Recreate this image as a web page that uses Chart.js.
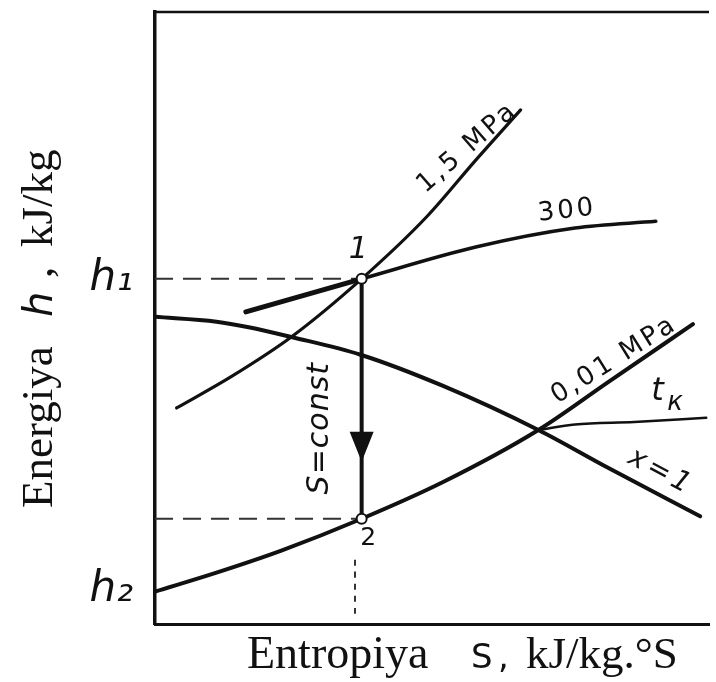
<!DOCTYPE html>
<html>
<head>
<meta charset="utf-8">
<script src="https://cdn.jsdelivr.net/npm/chart.js@4.4.1/dist/chart.umd.min.js"></script>
<style>
  html, body { margin: 0; padding: 0; background: #fff; }
  #wrap { width: 716px; height: 682px; }
</style>
</head>
<body>
<div id="wrap"><canvas id="hs-chart"></canvas></div>
<script>
// h-s diagram, both axes in arbitrary units (0..100), no numeric ticks
const sIso = 37.3;            // s = const expansion 1 -> 2
const h1 = 56.4;
const h2 = 17.2;

// 1,5 MPa isobar
const s15 = [3.9, 13.9, 24.6, 37.3, 49.0, 57.9, 66.0];
const h15 = [35.3, 40.5, 46.9, 56.4, 66.5, 75.8, 84.0];

// 300 isotherm
const s300 = [16.4, 37.3, 57.9, 75.8, 90.4];
const h300 = [51.0, 56.4, 61.6, 64.7, 65.8];

// saturation line x = 1
const sSat = [0, 11.1, 16.9, 24.6, 37.1, 52.0, 69.2, 81.6, 98.4];
const hSat = [50.2, 49.4, 48.5, 46.9, 44.0, 38.9, 31.7, 25.6, 17.6];

// 0,01 MPa isobar
const s001 = [0, 11.1, 22.8, 37.3, 52.0, 69.2, 81.6, 97.1];
const h001 = [5.3, 8.4, 12.0, 17.2, 23.2, 31.7, 39.4, 49.0];

// t_k isotherm
const sTk = [69.2, 75.8, 86.5, 99.5];
const hTk = [31.7, 32.6, 33.0, 33.7];

// short dotted drop from point 2
const sDrop = [36.1, 36.1];
const hDrop = [10.5, 0.7];

// arrow head on the s = const line
const arrowTipH = 26.5;
const arrowBaseH = 31.4;

// y axis marks
const yTickValues = [5.6, 56.4];
const yTickLabels = ['h₂', 'h₁'];

// curve labels
const labelTexts = ['1,5 MPa', '300', '0,01 MPa', 't', 'к', 'x=1', '1', '2', 'S=const'];
const labelS = [56.4, 74.4, 82.9, 90.7, 93.9, 91.3, 36.7, 38.5, 29.9];
const labelH = [77.8, 67.5, 43.1, 37.9, 36.0, 24.8, 61.1, 13.9, 32.0];

// axis titles (pieces with their own fonts)
const yTitleParts = ['Energiya', 'h', ',', 'kJ/kg'];
const xTitleParts = ['Entropiya', 'S', ',', 'kJ/kg.°S'];

const INK = '#111';
const DASH = '#333';
const SANS = '"DejaVu Sans"';
const SERIF = '"Liberation Serif"';

const labelStyle = [
    { font: `26px ${SANS}`, angle: -41, spacing: 3 },
    { font: `26px ${SANS}`, angle: -6, spacing: 3 },
    { font: `26px ${SANS}`, angle: -32, spacing: 3 },
    { font: `oblique 32px ${SANS}`, angle: 0, spacing: 0 },
    { font: `oblique 26px ${SANS}`, angle: 0, spacing: 0 },
    { font: `oblique 28px ${SANS}`, angle: 28, spacing: 4 },
    { font: `oblique 30px ${SANS}`, angle: 0, spacing: 0 },
    { font: `25px ${SANS}`, angle: 0, spacing: 0 },
    { font: `oblique 30px ${SANS}`, angle: -90, spacing: 1 }
];
const yTitleStyle = [
    { font: `45px ${SERIF}`, at: 0 },
    { font: `oblique 40px ${SANS}`, at: 191 },
    { font: `45px ${SERIF}`, at: 230 },
    { font: `45px ${SERIF}`, at: 261 }
];
const xTitleStyle = [
    { font: `46px ${SERIF}`, at: 0 },
    { font: `34px ${SANS}`, at: 224 },
    { font: `34px ${SANS}`, at: 251 },
    { font: `45px ${SERIF}`, at: 279 }
];

const pts = (xs, ys) => xs.map((x, i) => ({ x, y: ys[i] }));

function curve(data, width, extra) {
    return Object.assign({
        data,
        showLine: true,
        borderColor: INK,
        borderWidth: width,
        pointRadius: 0,
        cubicInterpolationMode: 'monotone',
        borderCapStyle: 'round'
    }, extra || {});
}

const sketchPlugin = {
    id: 'sketch',
    afterDatasetsDraw(chart) {
        const { ctx, chartArea: a, scales: { x, y } } = chart;
        ctx.save();

        // top edge of the frame
        ctx.strokeStyle = INK;
        ctx.lineWidth = 2.5;
        ctx.beginPath();
        ctx.moveTo(a.left - 2, a.top);
        ctx.lineTo(a.right, a.top);
        ctx.stroke();

        // arrow head
        const ax = x.getPixelForValue(sIso);
        const tip = y.getPixelForValue(arrowTipH);
        const base = y.getPixelForValue(arrowBaseH);
        ctx.fillStyle = INK;
        ctx.beginPath();
        ctx.moveTo(ax, tip);
        ctx.lineTo(ax - 12, base);
        ctx.lineTo(ax + 12, base);
        ctx.closePath();
        ctx.fill();

        // curve labels
        ctx.textAlign = 'center';
        ctx.textBaseline = 'middle';
        labelTexts.forEach((text, i) => {
            const st = labelStyle[i];
            ctx.save();
            ctx.translate(x.getPixelForValue(labelS[i]), y.getPixelForValue(labelH[i]));
            ctx.rotate(st.angle * Math.PI / 180);
            ctx.font = st.font;
            ctx.letterSpacing = st.spacing + 'px';
            ctx.fillText(text, 0, 0);
            ctx.restore();
        });
        ctx.restore();
    },
    afterDraw(chart) {
        const { ctx, chartArea: a } = chart;
        ctx.save();
        ctx.fillStyle = INK;
        ctx.textAlign = 'left';
        ctx.textBaseline = 'alphabetic';

        // y title, reading upwards
        ctx.save();
        ctx.translate(a.left - 103, a.bottom - 116);
        ctx.rotate(-Math.PI / 2);
        yTitleParts.forEach((t, i) => {
            ctx.font = yTitleStyle[i].font;
            ctx.fillText(t, yTitleStyle[i].at, 0);
        });
        ctx.restore();

        // x title
        xTitleParts.forEach((t, i) => {
            ctx.font = xTitleStyle[i].font;
            ctx.fillText(t, a.left + 92 + xTitleStyle[i].at, a.bottom + 44);
        });
        ctx.restore();
    }
};

new Chart(document.getElementById('hs-chart'), {
    type: 'scatter',
    data: {
        datasets: [
            {
                data: pts([sIso, sIso], [h1, h2]),
                showLine: false,
                pointRadius: 5,
                pointBackgroundColor: '#fff',
                pointBorderColor: INK,
                pointBorderWidth: 2,
                order: -2
            },
            curve(pts([sIso, sIso], [h1, h2]), 4, { cubicInterpolationMode: 'default', order: -1 }),
            curve(pts(s15, h15), 3.2),
            curve(pts(s300, h300), 3.5, {
                segment: { borderWidth: c => (c.p0DataIndex === 0 ? 5 : 3.5) }
            }),
            curve(pts(sSat, hSat), 4),
            curve(pts(s001, h001), 4),
            curve(pts(sTk, hTk), 2.5),
            curve(pts([0, sIso], [h1, h1]), 2, { borderColor: DASH, borderDash: [18, 10], borderCapStyle: 'butt' }),
            curve(pts([0, sIso], [h2, h2]), 2, { borderColor: DASH, borderDash: [18, 10], borderCapStyle: 'butt' }),
            curve(pts(sDrop, hDrop), 2, { borderColor: DASH, borderDash: [6, 6], borderCapStyle: 'butt' })
        ]
    },
    options: {
        responsive: true,
        maintainAspectRatio: false,
        animation: false,
        layout: { padding: { top: 12, right: 0, bottom: 0, left: 0 } },
        plugins: {
            legend: { display: false },
            tooltip: { enabled: false }
        },
        scales: {
            x: {
                type: 'linear',
                min: 0,
                max: 100,
                grid: { display: false, drawTicks: false },
                ticks: { display: false },
                border: { display: true, width: 3, color: INK },
                afterFit: s => { s.height = 58; s.paddingLeft = 0; s.paddingRight = 0; }
            },
            y: {
                type: 'linear',
                min: 0,
                max: 100,
                grid: { display: false, drawTicks: false },
                border: { display: true, width: 3.5, color: INK },
                ticks: {
                    autoSkip: false,
                    padding: 22,
                    color: INK,
                    font: { family: 'DejaVu Sans', style: 'italic', size: 42 },
                    callback: (v, i) => yTickLabels[i]
                },
                afterBuildTicks: s => { s.ticks = yTickValues.map(v => ({ value: v })); },
                afterFit: s => { s.width = 155; s.paddingTop = 0; s.paddingBottom = 0; }
            }
        }
    },
    plugins: [sketchPlugin]
});
</script>
</body>
</html>
